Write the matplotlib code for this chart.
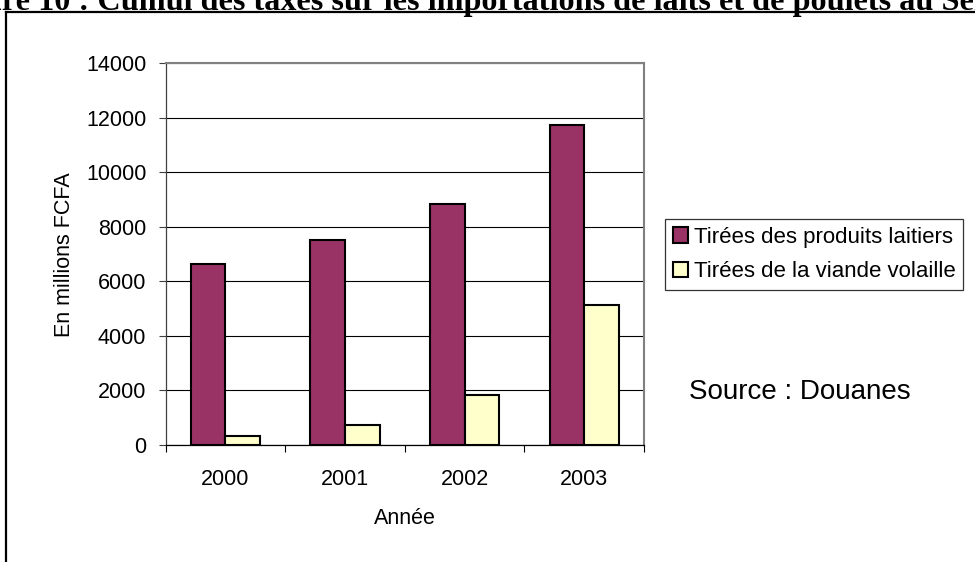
import matplotlib
matplotlib.use("Agg")
import matplotlib.pyplot as plt
from matplotlib.lines import Line2D
from matplotlib.patches import Patch
import numpy as np

years = ["2000", "2001", "2002", "2003"]
dairy = [6630, 7520, 8840, 11740]
poultry = [340, 745, 1845, 5125]
series_labels = ["Tirées des produits laitiers", "Tirées de la viande volaille"]
title_text = "Figure 10 : Cumul des taxes sur les importations de laits et de poulets au Sénégal"

plt.rcParams['font.family'] = ['Liberation Sans', 'DejaVu Sans']

W, H = 975, 562
fig = plt.figure(figsize=(W / 100, H / 100), dpi=100)
fig.patch.set_facecolor('white')

ax = fig.add_axes([165.7 / W, 1 - 445 / H, (644 - 165.7) / W, (445 - 63.3) / H])
x = np.arange(len(years))
bw = 0.29
ax.bar(x - bw, dairy, width=bw, align='edge', color='#993366', edgecolor='black', linewidth=1.5, zorder=3)
ax.bar(x, poultry, width=bw, align='edge', color='#FFFFCC', edgecolor='black', linewidth=1.5, zorder=3)

ax.set_xlim(-0.5, len(years) - 0.5)
ax.set_ylim(0, 14000)
ax.set_yticks(np.arange(0, 14001, 2000))
ax.yaxis.grid(True, color='black', linewidth=0.8, zorder=1)
ax.set_axisbelow(True)
ax.tick_params(axis='y', direction='out', length=5, width=0.8, color='#404040', labelsize=15.5, pad=9)

ax.set_xticks(np.arange(-0.5, len(years), 1.0))
ax.set_xticklabels([])
ax.tick_params(axis='x', which='major', direction='out', length=5, width=0.8, color='black')
ax.set_xticks(x, minor=True)
ax.set_xticklabels(years, minor=True)
ax.tick_params(axis='x', which='minor', length=0, labelsize=15.5, pad=17)

for s in ['top', 'right']:
    ax.spines[s].set_color('#808080')
    ax.spines[s].set_linewidth(1.5)
ax.spines['left'].set_color('#404040')
ax.spines['left'].set_linewidth(0.9)
ax.spines['bottom'].set_color('black')
ax.spines['bottom'].set_linewidth(0.9)

ax.set_ylabel("En millions FCFA", fontsize=15.5, labelpad=8)
ax.set_xlabel("Année", fontsize=15.5, labelpad=13)

handles = [Patch(facecolor='#993366', edgecolor='black', linewidth=1.5),
           Patch(facecolor='#FFFFCC', edgecolor='black', linewidth=1.5)]
leg = fig.legend(handles, series_labels, loc='upper left',
                 bbox_to_anchor=(665 / W, 1 - 219 / H), borderaxespad=0,
                 fontsize=16, frameon=True, fancybox=False, shadow=False,
                 handlelength=0.7, handleheight=0.7, handletextpad=0.25,
                 labelspacing=0.6, borderpad=0.35)
leg.get_frame().set_edgecolor('black')
leg.get_frame().set_linewidth(0.9)

fig.text(689 / W, 1 - 392 / H, "Source : Douanes", fontsize=20, ha='left', va='center')

# outer frame (cropped at right and bottom)
fig.add_artist(Line2D([6 / W, 1.01], [1 - 12 / H, 1 - 12 / H], transform=fig.transFigure, color='black', linewidth=1.6))
fig.add_artist(Line2D([6 / W, 6 / W], [1 - 12 / H, -0.01], transform=fig.transFigure, color='black', linewidth=1.6))

# cropped title: compute size/position so "Cumul" starts at x=97 and "S" of "Sénégal" at x=945
renderer = fig.canvas.get_renderer()
def width(s, fs):
    t = fig.text(0, 0, s, fontsize=fs, fontweight='bold', family='Liberation Serif')
    w = t.get_window_extent(renderer).width
    t.remove()
    return w
ref = 10
w_span = width("Cumul des taxes sur les importations de laits et de poulets au S", ref) - width("S", ref)
fs = ref * 848 / w_span
pre = width("Figure 10 : C", fs) - width("C", fs)
fig.text((97 - pre) / W, 1 - 10 / H, title_text, fontsize=fs, fontweight='bold',
         family='Liberation Serif', ha='left', va='baseline')

fig.savefig("out.png", dpi=100, facecolor='white')
